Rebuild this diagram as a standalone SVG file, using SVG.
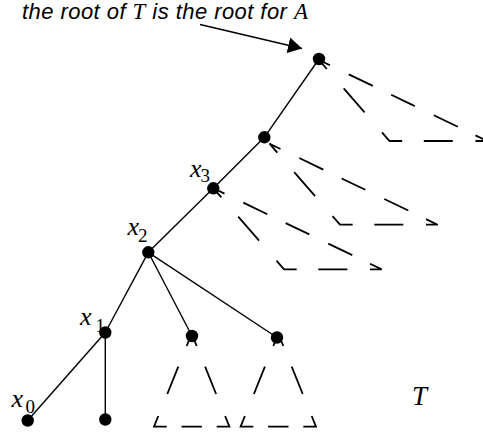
<svg xmlns="http://www.w3.org/2000/svg" width="483" height="440" viewBox="0 0 483 440">
<style>
.edge{stroke:#000;stroke-width:1.4;fill:none}
.dash{stroke:#000;stroke-width:1.8;fill:none;stroke-linejoin:miter}
.node{fill:#000}
.lbl{font-family:"Liberation Serif","Times New Roman",serif;font-style:italic;font-size:26px;fill:#000}
.sub{font-family:"Liberation Serif","Times New Roman",serif;font-style:normal;font-size:19px}
.cap{font-family:"Liberation Sans",Arial,sans-serif;font-style:italic;font-size:22px;fill:#000}
.capv{font-family:"Liberation Serif","Times New Roman",serif;font-style:italic;font-size:23px}
</style>
<defs>
<path id="bigTri" class="dash" d="M0,0 L11,5.3 M29.8,14.35 L53.8,25.9 M72.2,34.8 L95.8,46.1 M114.8,55.3 L138.8,66.8 M156.5,75.4 L168.2,81 L156.5,81 M133.8,81 L104.8,81 M83.2,81 L70.5,81 L63,72.4 M45.6,52.4 L24.7,28.4 M7.8,9 L0,0"/>
<path id="smallTri" class="dash" d="M0,0 L-5,12.3 M-13.4,33 L-24.4,60.3 M-33.4,82.3 L-37.7,93 L-25,93 M-10.2,93 L10.2,93 M25,93 L37.7,93 L33.4,82.3 M24.4,60.3 L13.4,33 M5,12.3 L0,0"/>
<marker id="arrow" viewBox="0 0 14 16" refX="14" refY="8" markerWidth="14" markerHeight="16" markerUnits="userSpaceOnUse" orient="auto">
<path d="M0,0 L14,8 L0,16 Z" fill="#000"/>
</marker>
</defs>
<g id="connectors">
<line class="edge" x1="319" y1="59" x2="264.3" y2="137.3"/>
<line class="edge" x1="264.3" y1="137.3" x2="213.3" y2="188.3"/>
<line class="edge" x1="213.3" y1="188.3" x2="148.3" y2="252.3"/>
<line class="edge" x1="148.3" y1="252.3" x2="105.3" y2="332.5"/>
<line class="edge" x1="148.3" y1="252.3" x2="192" y2="336"/>
<line class="edge" x1="148.3" y1="252.3" x2="277" y2="337.5"/>
<line class="edge" x1="105.3" y1="332.5" x2="27.7" y2="420.5"/>
<line class="edge" x1="105.3" y1="332.5" x2="105.3" y2="419.5"/>
<line class="edge" x1="200" y1="24.5" x2="302" y2="48.5" marker-end="url(#arrow)"/>
</g>
<g id="subtrees">
<use href="#bigTri" x="319" y="60"/>
<use href="#bigTri" x="269.5" y="143.7"/>
<use href="#bigTri" x="213.5" y="188.3"/>
<use href="#smallTri" x="191.7" y="333.7"/>
<use href="#smallTri" x="278.3" y="333.7"/>
</g>
<g id="root"><circle class="node" cx="319" cy="59" r="6.2"/></g>
<g id="n2"><circle class="node" cx="264.3" cy="137.3" r="6.2"/></g>
<g id="x3"><circle class="node" cx="213.3" cy="188.3" r="6.2"/><text class="lbl" x="190" y="177">x<tspan class="sub" x="200.5" y="182">3</tspan></text></g>
<g id="x2"><circle class="node" cx="148.3" cy="252.3" r="6.2"/><text class="lbl" x="127.5" y="235">x<tspan class="sub" x="138" y="241.5">2</tspan></text></g>
<g id="x1"><circle class="node" cx="105.3" cy="332.5" r="6.2"/><text class="lbl" x="80" y="325">x<tspan class="sub" x="95.5" y="332">1</tspan></text></g>
<g id="x0"><circle class="node" cx="27.7" cy="420.5" r="6.2"/><text class="lbl" x="11.5" y="407">x<tspan class="sub" x="25.5" y="413">0</tspan></text></g>
<g id="leaf"><circle class="node" cx="105.3" cy="419.5" r="6.2"/></g>
<g id="c1"><circle class="node" cx="192" cy="336" r="6.2"/></g>
<g id="c2"><circle class="node" cx="277" cy="337.5" r="6.2"/></g>
<g id="caption"><text class="cap" x="22" y="19" textLength="286" lengthAdjust="spacing">the root of <tspan class="capv">T</tspan> is the root for <tspan class="capv">A</tspan></text></g>
<g id="labelT"><text class="lbl" x="412" y="405" style="font-size:27px">T</text></g>
</svg>
